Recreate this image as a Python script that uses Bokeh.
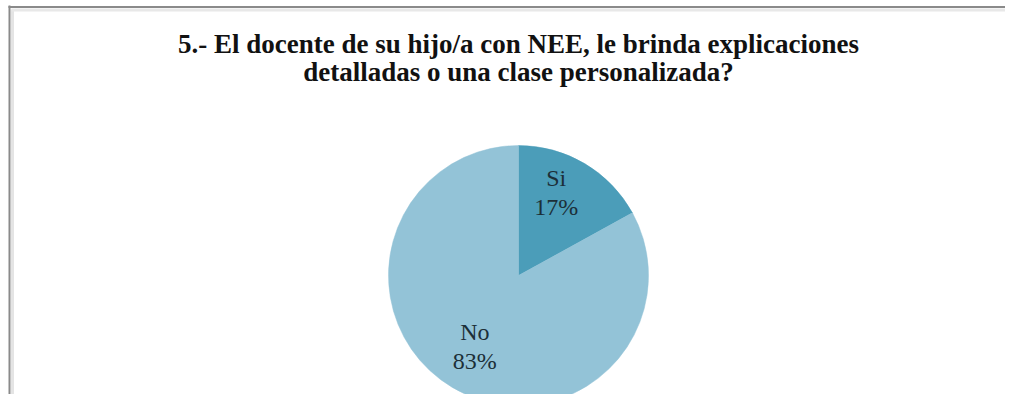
import numpy as np
from bokeh.plotting import figure
from bokeh.models import Range1d, ColumnDataSource
from bokeh.core.properties import value
from bokeh.embed import file_html
from bokeh.resources import INLINE

# Data
categories = ["Si", "No"]
percent = [17, 83]
colors = ["#4B9DB9", "#93C3D7"]
title_lines = ["5.- El docente de su hijo/a con NEE, le brinda explicaciones",
               "detalladas o una clase personalizada?"]

W, H = 1005, 394
p = figure(width=W, height=H, output_backend="svg", toolbar_location=None,
           x_range=Range1d(0, W), y_range=Range1d(0, H),
           min_border=0, outline_line_color=None, background_fill_color="white",
           border_fill_color="white")
p.axis.visible = False
p.grid.visible = False

def sy(y):  # picture y -> data y
    return H - y

# Frame (left + top border with a soft shadow)
p.line([12, 12], [sy(H), sy(9)], line_color="#e4e4e4", line_width=3)
p.line([11, W], [sy(9.5), sy(9.5)], line_color="#e8e8e8", line_width=3)
p.line([9, 9], [sy(H), sy(5)], line_color="#8a8a8a", line_width=2)
p.line([8, W], [sy(6.5), sy(6.5)], line_color="#8a8a8a", line_width=2)

# Pie
cx, cy, r = 518, sy(275), 130
vals = np.array(percent, dtype=float)
frac = vals / vals.sum()
ends = np.pi / 2 - 2 * np.pi * np.cumsum(frac)
starts = np.concatenate([[np.pi / 2], ends[:-1]])
src = ColumnDataSource(dict(start=starts, end=ends, color=colors))
p.wedge(x=cx, y=cy, radius=r, start_angle="start", end_angle="end",
        direction="clock", fill_color="color", line_color="color", line_width=0.5,
        source=src)

# Labels (placed along each slice's bisector, with a small nudge)
mid = (starts + ends) / 2
lx = cx + 0.66 * r * np.cos(mid)
ly = cy + 0.66 * r * np.sin(mid)
pct = [f"{v}%" for v in percent]
nudge_x = [-6, 0]
nudge_y = [-10, -3]
lsrc = ColumnDataSource(dict(x=lx, y=ly, name=categories, pct=pct,
                             nx=nudge_x, ny1=[v - 14 for v in nudge_y],
                             ny2=[v + 15 for v in nudge_y]))
p.text(x="x", y="y", text="name", source=lsrc, text_align="center",
       text_baseline="middle", x_offset="nx", y_offset="ny1",
       text_font=value("Liberation Serif"),
       text_font_size="24px", text_color="#1c2f38")
p.text(x="x", y="y", text="pct", source=lsrc, text_align="center",
       text_baseline="middle", x_offset="nx", y_offset="ny2",
       text_font=value("Liberation Serif"),
       text_font_size="24px", text_color="#1c2f38")

# Title
p.text(x=[518, 518], y=[sy(43), sy(71)], text=title_lines, text_align="center",
       text_baseline="alphabetic", text_font=value("Liberation Serif"),
       text_font_style="bold", text_font_size="27px", text_color="#111111")

open("out.html", "w").write(file_html(p, INLINE))
